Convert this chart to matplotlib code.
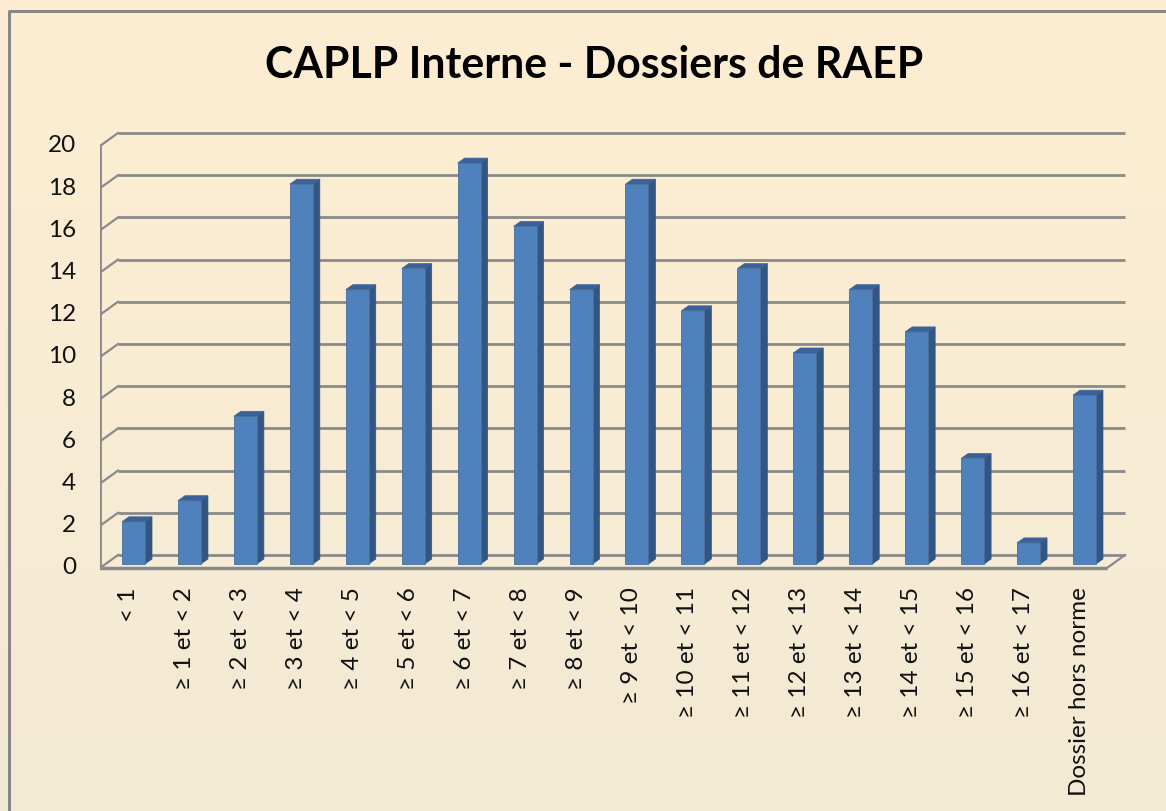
import matplotlib
matplotlib.use("Agg")
import matplotlib.pyplot as plt
import numpy as np
from matplotlib.patches import Polygon

categories = ["< 1", "≥ 1 et < 2", "≥ 2 et < 3", "≥ 3 et < 4", "≥ 4 et < 5", "≥ 5 et < 6",
              "≥ 6 et < 7", "≥ 7 et < 8", "≥ 8 et < 9", "≥ 9 et < 10", "≥ 10 et < 11",
              "≥ 11 et < 12", "≥ 12 et < 13", "≥ 13 et < 14", "≥ 14 et < 15", "≥ 15 et < 16",
              "≥ 16 et < 17", "Dossier hors norme"]
values = [2, 3, 7, 18, 13, 14, 19, 16, 13, 18, 12, 14, 10, 13, 11, 5, 1, 8]
yticks = [0, 2, 4, 6, 8, 10, 12, 14, 16, 18, 20]
title = "CAPLP Interne - Dossiers de RAEP"

W, H = 1166, 811
fig = plt.figure(figsize=(W / 100, H / 100), dpi=100)

# background gradient
bg = fig.add_axes([0, 0, 1, 1])
bg.set_xlim(0, W); bg.set_ylim(H, 0); bg.axis("off")
top_c = np.array([0xFD, 0xEE, 0xD2]) / 255
bot_c = np.array([0xF3, 0xEA, 0xD5]) / 255
t = np.linspace(0, 1, 256)[:, None]
grad = (top_c[None, :] * (1 - t) + bot_c[None, :] * t)[:, None, :]
bg.imshow(grad, extent=[0, W, H, 0], aspect="auto", zorder=0)
bg.plot([9, 9, W], [H, 11, 11], color="#888888", lw=2.2, zorder=1, solid_capstyle="butt")

# geometry (pixels)
pxu_x = 55.94
pxu_y = 21.1
x0_px = 133.5          # center of first bar
base_px = 564          # bar baseline
ax_l, ax_r = 100, 1128
ax_b, ax_t = 572, 128
ax = fig.add_axes([ax_l / W, 1 - ax_b / H, (ax_r - ax_l) / W, (ax_b - ax_t) / H])
ax.set_xlim((ax_l - x0_px) / pxu_x, (ax_r - x0_px) / pxu_x)
ax.set_ylim((base_px - ax_b) / pxu_y, (base_px - ax_t) / pxu_y)
ax.axis("off")
ax.patch.set_alpha(0)

front_dy = -4 / pxu_y
back_dy = 9 / pxu_y
wall_dx = 18 / pxu_x
xl = (100 - x0_px) / pxu_x
xr = (1107 - x0_px) / pxu_x
gc = "#8A8A8A"
glw = 2.0

# back wall gridlines and side wall diagonals
for v in yticks:
    ax.plot([xl + wall_dx, xr + wall_dx], [v + back_dy, v + back_dy], color=gc, lw=glw, zorder=1,
            solid_capstyle="butt")
    ax.plot([xl, xl + wall_dx], [v + front_dy, v + back_dy], color=gc, lw=glw * 0.8, zorder=1)
# left axis line
ax.plot([xl, xl], [front_dy, 20 + front_dy], color=gc, lw=glw, zorder=2)
# floor
ax.plot([xl, xr], [front_dy, front_dy], color=gc, lw=glw + 0.5, zorder=2, solid_capstyle="butt")
ax.plot([xr, xr + wall_dx], [front_dy, back_dy], color=gc, lw=glw * 0.8, zorder=2)

# bars
x = np.arange(len(values))
bw = 23 / pxu_x
ddx = 7 / pxu_x
ddy = 5 / pxu_y
front_col = "#4F81BD"
side_col = "#34557F"
top_col = "#3B6298"
bars = ax.bar(x, values, width=bw, color=front_col, edgecolor="#45709F", linewidth=0.6, zorder=5)
for rect, v in zip(bars, values):
    l = rect.get_x(); r = l + rect.get_width()
    side = Polygon([[r, 0], [r + ddx, ddy], [r + ddx, v + ddy], [r, v]], closed=True,
                   facecolor=side_col, edgecolor=side_col, lw=0.5, zorder=4)
    topp = Polygon([[l, v], [l + ddx, v + ddy], [r + ddx, v + ddy], [r, v]], closed=True,
                   facecolor=top_col, edgecolor=top_col, lw=0.5, zorder=4)
    ax.add_patch(side); ax.add_patch(topp)

font = "Lato"
# y tick labels
for v in yticks:
    ax.text(xl - 24 / pxu_x, v + front_dy, str(v), ha="right", va="center",
            fontsize=17.5, family=font, color="#111111")
# category labels
for i, c in enumerate(categories):
    ax.text(i - 5 / pxu_x, front_dy - 19 / pxu_y, c, rotation=90, ha="center", va="top",
            fontsize=17.5, family=font, color="#111111", rotation_mode="default")

fig.text(594 / W, 1 - 65 / H, title, ha="center", va="center", fontsize=30.8,
         fontweight="bold", family=font, color="black")

fig.savefig("out.png", dpi=100)
